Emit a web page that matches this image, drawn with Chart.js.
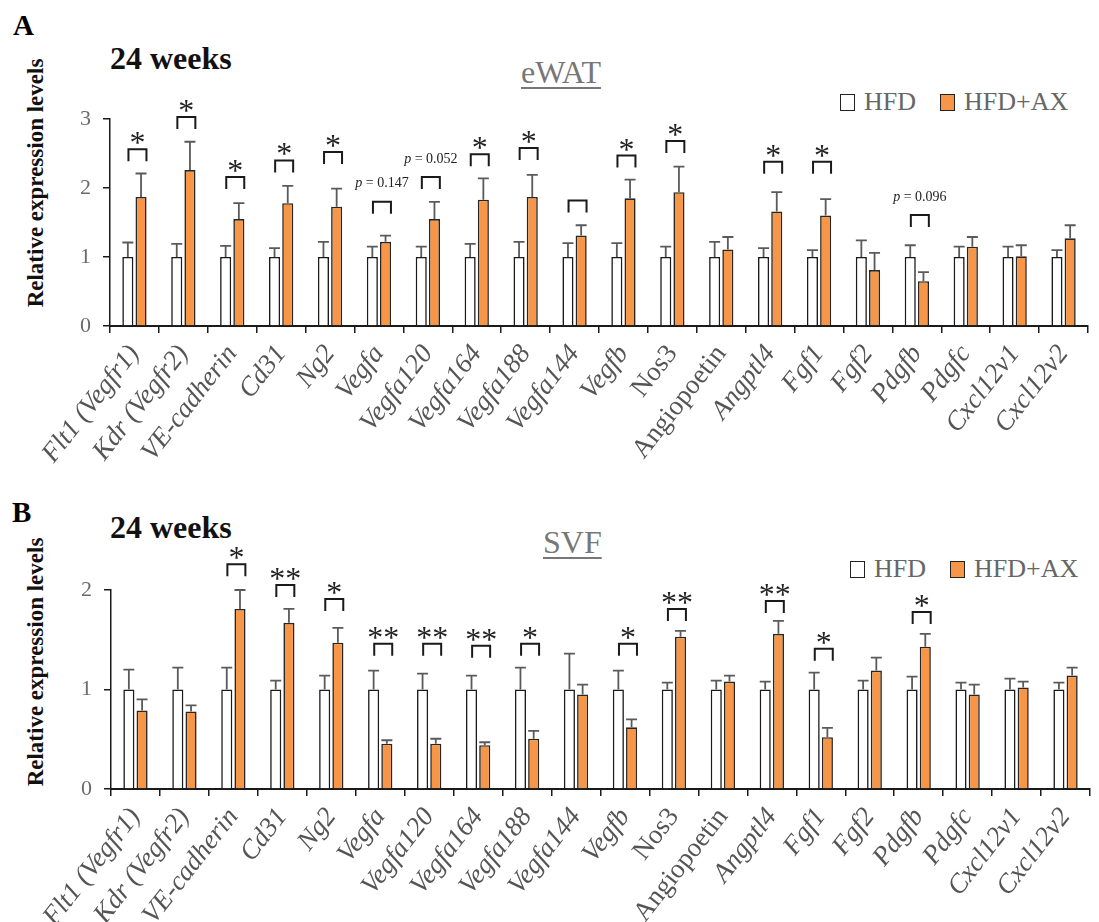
<!DOCTYPE html>
<html>
<head>
<meta charset="utf-8">
<script src="https://cdn.jsdelivr.net/npm/chart.js@4/dist/chart.umd.min.js"></script>
<style>
  html, body { margin: 0; padding: 0; background: #fff; }
  #page { position: relative; width: 1099px; height: 922px; overflow: hidden; background: #fff; font-family: 'Liberation Serif', 'Times New Roman', serif; }
  .abs { position: absolute; white-space: nowrap; line-height: 1; }
  .panel { font-weight: bold; font-size: 29px; color: #000; }
  .weeks { font-weight: bold; font-size: 32px; color: #111; }
  .tissue { font-size: 32px; color: #777; text-decoration: underline; text-decoration-thickness: 1.5px; text-underline-offset: 4px; }
  .ytitle { font-weight: bold; font-size: 23px; color: #111; transform: translate(-50%, -50%) rotate(-90deg); }
  .legend { font-size: 26px; color: #666; display: flex; align-items: center; }
  .legend .box { width: 13px; height: 15px; border: 1.5px solid #222; display: inline-block; }
  .legend .lab { margin-left: 9px; margin-right: 24px; }
  canvas { position: absolute; left: 0; }
</style>
</head>
<body>
<div id="page">
  <div class="abs panel" style="left:13px; top:11px;">A</div>
  <div class="abs weeks" style="left:110px; top:42px;">24 weeks</div>
  <div class="abs tissue" style="left:521px; top:56px;">eWAT</div>
  <div class="abs ytitle" style="left:35px; top:183px;">Relative expression levels</div>
  <div class="abs legend" id="legendA" style="left:840px; top:89px;"></div>

  <div class="abs panel" style="left:12px; top:498px;">B</div>
  <div class="abs weeks" style="left:110px; top:511px;">24 weeks</div>
  <div class="abs tissue" style="left:543px; top:526px;">SVF</div>
  <div class="abs ytitle" style="left:35px; top:662px;">Relative expression levels</div>
  <div class="abs legend" id="legendB" style="left:850px; top:556px;"></div>

  <canvas id="chartA" width="1099" height="476" style="top:0;"></canvas>
  <canvas id="chartB" width="1099" height="452" style="top:470px;"></canvas>
</div>
<script>
// Genes on the x axis (same order in both panels)
const genes = ['Flt1 (Vegfr1)', 'Kdr (Vegfr2)', 'VE-cadherin', 'Cd31', 'Ng2', 'Vegfa', 'Vegfa120', 'Vegfa164',
  'Vegfa188', 'Vegfa144', 'Vegfb', 'Nos3', 'Angiopoetin', 'Angptl4', 'Fgf1', 'Fgf2', 'Pdgfb', 'Pdgfc', 'Cxcl12v1', 'Cxcl12v2'];
const uprightGenes = ['Nos3', 'Angiopoetin'];
const seriesNames = ['HFD', 'HFD+AX'];

// eWAT (panel A): mean relative expression and SE
const hfdEwat    = [1, 1, 1, 1, 1, 1, 1, 1, 1, 1, 1, 1, 1, 1, 1, 1, 1, 1, 1, 1];
const hfdEwatErr = [0.21, 0.19, 0.16, 0.13, 0.22, 0.15, 0.15, 0.19, 0.22, 0.20, 0.20, 0.15, 0.22, 0.13, 0.10, 0.24, 0.17, 0.15, 0.15, 0.10];
const axEwat     = [1.87, 2.26, 1.55, 1.78, 1.73, 1.22, 1.55, 1.83, 1.87, 1.31, 1.85, 1.94, 1.11, 1.66, 1.60, 0.81, 0.65, 1.15, 1.01, 1.27];
const axEwatErr  = [0.34, 0.41, 0.23, 0.25, 0.26, 0.09, 0.25, 0.31, 0.32, 0.15, 0.27, 0.37, 0.18, 0.28, 0.24, 0.25, 0.13, 0.14, 0.16, 0.19];
// eWAT comparison brackets: level on the y scale and the mark written above
const ewatBracket = [2.56, 3.03, 2.16, 2.40, 2.52, 1.80, 2.16, 2.49, 2.58, 1.82, 2.47, 2.68, null, 2.38, 2.38, null, 1.61, null, null, null];
const ewatMark    = ['*', '*', '*', '*', '*', 'p = 0.147', 'p = 0.052', '*', '*', '', '*', '*', '', '*', '*', '', 'p = 0.096', '', '', ''];

// SVF (panel B)
const hfdSvf    = [1, 1, 1, 1, 1, 1, 1, 1, 1, 1, 1, 1, 1, 1, 1, 1, 1, 1, 1, 1];
const hfdSvfErr = [0.20, 0.22, 0.22, 0.09, 0.14, 0.19, 0.16, 0.14, 0.22, 0.36, 0.19, 0.07, 0.09, 0.08, 0.17, 0.09, 0.13, 0.07, 0.11, 0.07];
const axSvf     = [0.79, 0.78, 1.81, 1.67, 1.47, 0.455, 0.455, 0.44, 0.505, 0.95, 0.62, 1.53, 1.08, 1.56, 0.52, 1.19, 1.43, 0.95, 1.02, 1.14];
const axSvfErr  = [0.11, 0.06, 0.19, 0.14, 0.15, 0.035, 0.05, 0.03, 0.08, 0.10, 0.08, 0.06, 0.06, 0.13, 0.095, 0.13, 0.13, 0.10, 0.06, 0.08];
const svfBracket = [null, null, 2.26, 2.05, 1.91, 1.46, 1.46, 1.44, 1.46, null, 1.46, 1.81, null, 1.89, 1.41, null, 1.78, null, null, null];
const svfMark    = ['', '', '*', '**', '*', '**', '**', '**', '*', '', '*', '**', '', '**', '*', '', '*', '', '', ''];

// y-axis tick values
const ewatTicks = [0, 1, 2, 3];
const svfTicks = [0, 1, 2];

const SERIF = "'Liberation Serif', 'Times New Roman', serif";
const ORANGE = '#F79646';

// Upward-only error bars with a short cap
const errorBars = {
  id: 'errorBars',
  afterDatasetsDraw(chart) {
    const ctx = chart.ctx, y = chart.scales.y;
    ctx.save();
    ctx.strokeStyle = '#5a5a5a';
    ctx.lineWidth = 1.8;
    chart.data.datasets.forEach((ds, di) => {
      const meta = chart.getDatasetMeta(di);
      meta.data.forEach((bar, i) => {
        const top = y.getPixelForValue(ds.data[i] + ds.errors[i]);
        const base = y.getPixelForValue(ds.data[i]);
        ctx.beginPath();
        ctx.moveTo(bar.x, base);
        ctx.lineTo(bar.x, top);
        ctx.moveTo(bar.x - 5.5, top);
        ctx.lineTo(bar.x + 5.5, top);
        ctx.stroke();
      });
    });
    ctx.restore();
  }
};

// Comparison brackets with asterisks or p values
const sigMarks = {
  id: 'sigMarks',
  afterDatasetsDraw(chart, args, opts) {
    const ctx = chart.ctx, y = chart.scales.y;
    const m0 = chart.getDatasetMeta(0), m1 = chart.getDatasetMeta(1);
    ctx.save();
    opts.levels.forEach((lv, i) => {
      if (lv === null) return;
      const cx = (m0.data[i].x + m1.data[i].x) / 2 + 3;
      const yt = y.getPixelForValue(lv);
      ctx.strokeStyle = '#1a1a1a';
      ctx.lineWidth = 2;
      ctx.beginPath();
      ctx.moveTo(cx - 9, yt + 12);
      ctx.lineTo(cx - 9, yt);
      ctx.lineTo(cx + 9, yt);
      ctx.lineTo(cx + 9, yt + 12);
      ctx.stroke();
      const mark = opts.marks[i];
      if (!mark) return;
      ctx.fillStyle = '#222';
      if (mark.startsWith('p')) {
        const rest = mark.slice(1);
        ctx.textBaseline = 'middle';
        ctx.font = `italic 14px ${SERIF}`;
        const wp = ctx.measureText('p').width;
        ctx.font = `14px ${SERIF}`;
        const wr = ctx.measureText(rest).width;
        const x0 = cx - (wp + wr) / 2;
        ctx.textAlign = 'left';
        ctx.font = `italic 14px ${SERIF}`;
        ctx.fillText('p', x0, yt - 18);
        ctx.font = `14px ${SERIF}`;
        ctx.fillText(rest, x0 + wp, yt - 18);
      } else {
        ctx.textAlign = 'center';
        ctx.textBaseline = 'alphabetic';
        ctx.font = `32px ${SERIF}`;
        ctx.fillText(mark, cx, yt + 4);
      }
    });
    ctx.restore();
  }
};

function buildChart(canvasId, hfd, hfdErr, ax, axErr, tickVals, levels, marks, box) {
  const yMax = tickVals[tickVals.length - 1];
  return new Chart(document.getElementById(canvasId), {
    type: 'bar',
    data: {
      labels: genes,
      datasets: [
        { label: seriesNames[0], data: hfd, errors: hfdErr, backgroundColor: '#ffffff', borderColor: '#1a1a1a', borderWidth: 1.6 },
        { label: seriesNames[1], data: ax, errors: axErr, backgroundColor: ORANGE, borderColor: '#262626', borderWidth: 1.6 }
      ]
    },
    options: {
      responsive: false,
      devicePixelRatio: 1,
      animation: false,
      events: [],
      categoryPercentage: 0.54,
      barPercentage: 0.84,
      layout: { padding: { top: box.top, right: box.right, left: 0, bottom: 0 } },
      plugins: {
        legend: { display: false },
        tooltip: { enabled: false },
        sigMarks: { levels, marks }
      },
      scales: {
        x: {
          offset: true,
          grid: { display: true, offset: true, drawOnChartArea: false, drawTicks: true, tickLength: 7, color: '#1a1a1a', lineWidth: 1.5 },
          border: { display: true, color: '#1a1a1a', width: 2 },
          ticks: {
            autoSkip: false,
            minRotation: 52,
            maxRotation: 52,
            padding: 6,
            color: '#555',
            font: (c) => ({ family: SERIF, size: 27, style: uprightGenes.includes(genes[c.index]) ? 'normal' : 'italic' })
          },
          afterFit: (s) => { s.height = box.xh; }
        },
        y: {
          min: 0,
          max: yMax,
          afterBuildTicks: (s) => { s.ticks = tickVals.map(v => ({ value: v })); },
          grid: { display: true, drawOnChartArea: false, drawTicks: true, tickLength: 7, color: '#1a1a1a', lineWidth: 1.5 },
          border: { display: true, color: '#1a1a1a', width: 1.5 },
          ticks: { padding: 12, color: '#6b6b6b', font: { family: SERIF, size: 22 } },
          afterFit: (s) => { s.width = box.left; }
        }
      }
    },
    plugins: [errorBars, sigMarks]
  });
}

const chartA = buildChart('chartA', hfdEwat, hfdEwatErr, axEwat, axEwatErr, ewatTicks, ewatBracket, ewatMark,
  { top: 119, right: 11, left: 110, xh: 150 });
const chartB = buildChart('chartB', hfdSvf, hfdSvfErr, axSvf, axSvfErr, svfTicks, svfBracket, svfMark,
  { top: 120, right: 9, left: 111, xh: 133 });

// Legends built from the dataset labels and colours
function buildLegend(id, chart) {
  const el = document.getElementById(id);
  chart.data.datasets.forEach(ds => {
    const b = document.createElement('span');
    b.className = 'box';
    b.style.background = ds.backgroundColor;
    const t = document.createElement('span');
    t.className = 'lab';
    t.textContent = ds.label;
    el.appendChild(b);
    el.appendChild(t);
  });
}
buildLegend('legendA', chartA);
buildLegend('legendB', chartB);
</script>
</body>
</html>
